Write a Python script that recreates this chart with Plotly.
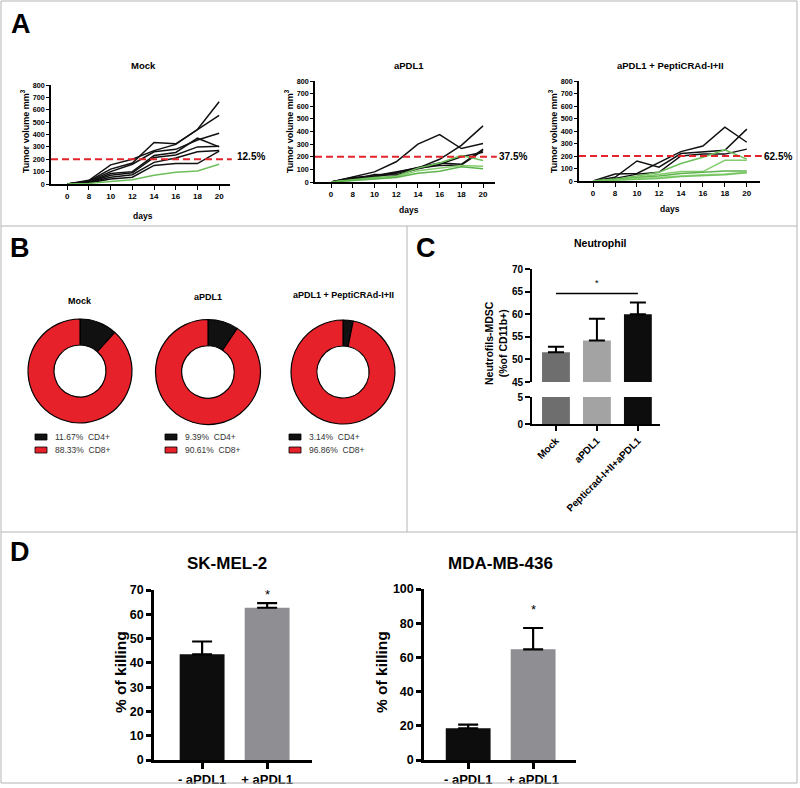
import plotly.graph_objects as go

W, H = 800, 788
FONT = "Liberation Sans, Arial, Helvetica, sans-serif"

# ---------------- Panel A data ----------------
days = ["0", "8", "10", "12", "14", "16", "18", "20"]
mock_black = [
    [0, 30, 155, 200, 270, 320, 440, 665],
    [0, 25, 120, 170, 335, 325, 440, 555],
    [0, 20, 100, 160, 260, 280, 355, 410],
    [0, 15, 85, 100, 230, 255, 370, 300],
    [0, 12, 70, 90, 215, 235, 300, 305],
    [0, 10, 55, 75, 175, 210, 260, 270],
    [0, 8, 40, 55, 150, 165, 165, 265],
]
mock_green = [[0, 5, 20, 35, 70, 95, 105, 160]]
apdl1_black = [
    [0, 40, 80, 160, 300, 375, 265, 305],
    [0, 35, 50, 80, 110, 180, 290, 445],
    [0, 30, 45, 75, 115, 150, 140, 260],
    [0, 25, 40, 70, 110, 130, 135, 250],
    [0, 20, 60, 55, 105, 140, 200, 235],
]
apdl1_green = [
    [0, 20, 35, 45, 110, 150, 210, 170],
    [0, 15, 30, 40, 90, 110, 130, 125],
    [0, 10, 25, 35, 70, 85, 120, 105],
]
combo_black = [
    [0, 55, 60, 150, 235, 280, 430, 310],
    [0, 30, 160, 110, 220, 230, 245, 415],
    [0, 20, 55, 70, 200, 215, 215, 255],
]
combo_green = [
    [0, 15, 40, 70, 140, 190, 250, 175],
    [0, 10, 30, 50, 75, 75, 165, 165],
    [0, 10, 25, 40, 60, 70, 80, 80],
    [0, 5, 20, 30, 45, 50, 55, 70],
    [0, 5, 15, 20, 35, 40, 50, 65],
]
a_titles = ["Mock", "aPDL1", "aPDL1 + PeptiCRAd-I+II"]
a_pct = ["12.5%", "37.5%", "62.5%"]
threshold = 200

# ---------------- Panel B data ----------------
b_titles = ["Mock", "aPDL1", "aPDL1 + PeptiCRAd-I+II"]
cd4 = [11.67, 9.39, 3.14]
cd8 = [88.33, 90.61, 96.86]

# ---------------- Panel C data ----------------
c_groups = ["Mock", "aPDL1", "Pepticrad-I+II+aPDL1"]
c_vals = [51.6, 54.2, 60.0]
c_err = [1.2, 4.8, 2.6]

# ---------------- Panel D data ----------------
d_groups = ["- aPDL1", "+ aPDL1"]
sk_vals = [43.5, 62.7]
sk_err = [5.3, 1.9]
mda_vals = [18.5, 64.7]
mda_err = [2.2, 12.5]


def px(x):
    return x / W


def py(y):
    return 1 - y / H


fig = go.Figure()
layout = dict(
    width=W, height=H, margin=dict(l=0, r=0, t=0, b=0, pad=0),
    paper_bgcolor="white", plot_bgcolor="white", showlegend=False,
    font=dict(family=FONT, color="black"),
)
annotations = []
shapes = []


def ann(text, x, y, size, bold=True, angle=0, color="black", xanchor="center", yanchor="middle"):
    annotations.append(dict(
        text=text, x=px(x), y=py(y), xref="paper", yref="paper",
        showarrow=False, textangle=angle, xanchor=xanchor, yanchor=yanchor,
        font=dict(size=size, family=FONT, color=color, weight="bold" if bold else "normal"),
    ))


def axis(**kw):
    base = dict(showline=True, linecolor="black", tickcolor="black", showgrid=False,
                zeroline=False, automargin=False, ticks="outside")
    base.update(kw)
    return base


# ---------------- Panel A ----------------
a_specs = [
    # (x0, x1, ytop, ybot, xrange, black, green, title_x, pct_x, ylab_x, days_y)
    (51, 230, 85, 184, [-0.75, 7.5], mock_black, mock_green, 143, 251, 25, 216),
    (315, 495, 81, 182, [-0.74, 7.55], apdl1_black, apdl1_green, 409, 513, 289, 210),
    (579, 760, 81, 181, [-0.64, 7.6], combo_black, combo_green, 670, 778, 553, 209),
]
greens = ["#6dbf5a", "#86cc6e", "#5cb34c", "#9ad585", "#72c45f"]
for i, (x0, x1, yt, yb, xr, blk, grn, tx, pcx, ylx, dy) in enumerate(a_specs):
    n = "" if i == 0 else str(i + 1)
    for s in blk:
        fig.add_trace(go.Scatter(x=days, y=s, mode="lines", line=dict(color="#111111", width=1.5),
                                 xaxis="x" + n, yaxis="y" + n, hoverinfo="skip"))
    for k, s in enumerate(grn):
        fig.add_trace(go.Scatter(x=days, y=s, mode="lines", line=dict(color=greens[k % len(greens)], width=1.5),
                                 xaxis="x" + n, yaxis="y" + n, hoverinfo="skip"))
    layout["xaxis" + n] = axis(
        domain=[px(x0), px(x1)], anchor="y" + n, type="category", range=xr,
        linewidth=1.5, ticklen=4, tickwidth=1.2,
        tickfont=dict(size=8, family=FONT, weight="bold"),
    )
    layout["yaxis" + n] = axis(
        domain=[py(yb), py(yt)], anchor="x" + n, range=[0, 800], tickvals=list(range(0, 801, 100)),
        linewidth=1.5, ticklen=3, tickwidth=1.2,
        tickfont=dict(size=7.2, family=FONT, weight="bold"),
    )
    shapes.append(dict(type="line", xref="x" + n + " domain", yref="y" + n, x0=0, x1=1.01,
                       y0=threshold, y1=threshold, line=dict(color="#e3242b", width=2, dash="7px,4px")))
    ann(a_titles[i], tx, 66, 9.5)
    ann(a_pct[i], pcx, 157, 10)
    ann("Tumor volume mm<sup>3</sup>", ylx, 131, 9, angle=-90)
    ann("days", tx, dy, 8.5)

# ---------------- Panel B ----------------
b_specs = [(80, 371, 52, 301, 35, 53), (208, 372, 52.5, 297, 165, 183), (343, 372, 52, 295, 289, 307)]
for i, (cx, cy, r, ty, sqx, txx) in enumerate(b_specs):
    fig.add_trace(go.Pie(
        values=[cd4[i], cd8[i]], labels=["CD4+", "CD8+"], hole=0.5, sort=False,
        direction="clockwise", rotation=0, textinfo="none", hoverinfo="skip",
        marker=dict(colors=["#111111", "#e6212a"], line=dict(color="black", width=1.2)),
        domain=dict(x=[px(cx - r), px(cx + r)], y=[py(cy + r), py(cy - r)]),
    ))
    ann(b_titles[i], cx, ty, 9)
    for j, (val, lab, col) in enumerate([(cd4[i], "CD4+", "#111111"), (cd8[i], "CD8+", "#e6212a")]):
        yy = 437 + 13 * j
        shapes.append(dict(type="rect", xref="paper", yref="paper", x0=px(sqx), x1=px(sqx + 12),
                           y0=py(yy + 3), y1=py(yy - 3), fillcolor=col, line=dict(color="black", width=0.8)))
        ann(f"{val:.2f}%  {lab}", txx, yy, 8.5, bold=False, color="#333333", xanchor="left")

# ---------------- Panel C ----------------
c_colors = ["#6e6e6e", "#a3a3a3", "#0d0d0d"]
for ya in ["y4", "y5"]:
    fig.add_trace(go.Bar(
        x=c_groups, y=c_vals, width=0.68, marker=dict(color=c_colors, line=dict(width=0)),
        xaxis="x4", yaxis=ya, hoverinfo="skip",
        error_y=dict(type="data", array=c_err, arrayminus=[0] * 3, color="black", thickness=2, width=8,
                     visible=(ya == "y4")),
    ))
layout["xaxis4"] = axis(
    domain=[px(532), px(660)], anchor="y5", type="category", range=[-0.585, 2.54],
    linewidth=2, ticklen=5, tickwidth=2, tickangle=-45,
    tickfont=dict(size=10, family=FONT, weight="bold"),
)
layout["yaxis4"] = axis(
    domain=[py(382), py(269)], anchor="x4", range=[45, 70], tickvals=[45, 50, 55, 60, 65, 70],
    linewidth=2, ticklen=5, tickwidth=2, tickfont=dict(size=10, family=FONT, weight="bold"),
)
layout["yaxis5"] = axis(
    domain=[py(424), py(397)], anchor="x4", range=[0, 5], tickvals=[0, 5],
    linewidth=2, ticklen=5, tickwidth=2, tickfont=dict(size=10, family=FONT, weight="bold"),
)
shapes.append(dict(type="line", xref="x4", yref="y4", x0=0, x1=2, y0=64.6, y1=64.6,
                   line=dict(color="black", width=1.5)))
annotations.append(dict(text="*", x=1, y=65.3, xref="x4", yref="y4", showarrow=False, yanchor="bottom",
                        font=dict(size=9, family=FONT)))
ann("Neutrophil", 600, 243, 10.5)
ann("Neutrofils-MDSC<br>(%of CD11b+)", 496, 343, 10.5, angle=-90)

# ---------------- Panel D ----------------
d_colors = ["#0d0d0d", "#8e8e93"]
d_specs = [
    ("6", sk_vals, sk_err, 154, 312, 590, 760, [-0.74, 1.69], [0, 70], 10, "SK-MEL-2", 227, 120, 68.0),
    ("7", mda_vals, mda_err, 424, 576, 589, 760, [-0.68, 1.66], [0, 100], 20, "MDA-MB-436", 500, 381, 88.0),
]
for (n, vals, err, x0, x1, yt, yb, xr, yr, dt, title, tx, ylx, star_y) in d_specs:
    fig.add_trace(go.Bar(
        x=d_groups, y=vals, width=0.69, marker=dict(color=d_colors, line=dict(width=0)),
        xaxis="x" + n, yaxis="y" + n, hoverinfo="skip",
        error_y=dict(type="data", array=err, arrayminus=[0] * 2, color="black", thickness=2.2, width=10),
    ))
    layout["xaxis" + n] = axis(
        domain=[px(x0), px(x1)], anchor="y" + n, type="category", range=xr,
        linewidth=2.5, ticklen=6, tickwidth=2.5,
        tickfont=dict(size=13, family=FONT, weight="bold"),
    )
    layout["yaxis" + n] = axis(
        domain=[py(yb), py(yt)], anchor="x" + n, range=yr, dtick=dt,
        linewidth=2.5, ticklen=5, tickwidth=2.5,
        tickfont=dict(size=12.5, family=FONT, weight="bold"),
    )
    annotations.append(dict(text="*", x=1, y=star_y, xref="x" + n, yref="y" + n, showarrow=False,
                            yanchor="middle", font=dict(size=13, family=FONT)))
    ann(title, tx, 563, 17)
    ann("% of killing", ylx, 672, 15.5, angle=-90)

# ---------------- panel letters & frame ----------------
ann("A", 21, 24, 27)
ann("B", 20, 248, 27)
ann("C", 426, 248, 27)
ann("D", 20, 552, 27)

frame = "#b4b4b4"
shapes += [
    dict(type="rect", xref="paper", yref="paper", x0=px(1), x1=px(797), y0=py(783), y1=py(1),
         line=dict(color=frame, width=1)),
    dict(type="line", xref="paper", yref="paper", x0=px(1), x1=px(797), y0=py(226), y1=py(226),
         line=dict(color=frame, width=1)),
    dict(type="line", xref="paper", yref="paper", x0=px(1), x1=px(797), y0=py(532), y1=py(532),
         line=dict(color=frame, width=1)),
    dict(type="line", xref="paper", yref="paper", x0=px(407), x1=px(407), y0=py(532), y1=py(226),
         line=dict(color=frame, width=1)),
]

layout["annotations"] = annotations
layout["shapes"] = shapes
fig.update_layout(**layout)
fig.write_html(
    "out.html",
    config={"displayModeBar": False},
    post_script="document.body.style.margin='0';document.body.style.overflow='hidden';",
)
